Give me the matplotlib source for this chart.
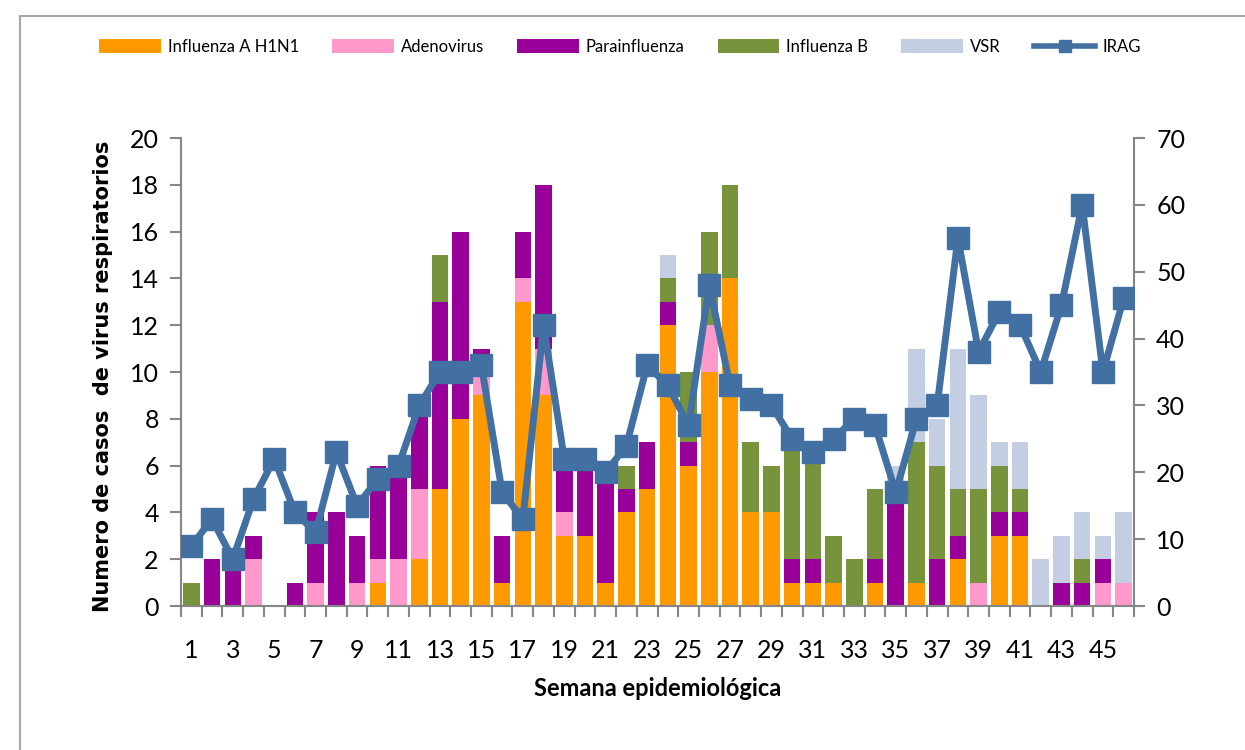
import matplotlib
matplotlib.use("Agg")
import matplotlib.pyplot as plt
from matplotlib.lines import Line2D
from matplotlib.patches import Patch, Rectangle
import numpy as np

weeks = list(range(1, 47))
h1n1 = [0,0,0,0,0,0,0,0,0,1,0,2,5,8,9,1,13,9,3,3,1,4,5,12,6,10,14,4,4,1,1,1,0,1,0,1,0,2,0,3,3,0,0,0,0,0]
adeno = [0,0,0,2,0,0,1,0,1,1,2,3,0,0,1,0,1,2,1,0,0,0,0,0,0,2,0,0,0,0,0,0,0,0,0,0,0,0,1,0,0,0,0,0,1,1]
parainf = [0,2,2,1,0,1,3,4,2,4,4,4,8,8,1,2,2,7,2,3,5,1,2,1,1,0,0,0,0,1,1,0,0,1,5,0,2,1,0,1,1,0,1,1,1,0]
flub = [1,0,0,0,0,0,0,0,0,0,0,0,2,0,0,0,0,0,0,0,0,1,0,1,3,4,4,3,2,5,5,2,2,3,0,6,4,2,4,2,1,0,0,1,0,0]
vsr = [0,0,0,0,0,0,0,0,0,0,0,0,0,0,0,0,0,0,0,0,0,0,0,1,0,0,0,0,0,0,0,0,0,0,1,4,2,6,4,1,2,2,2,2,1,3]
irag = [9,13,7,16,22,14,11,23,15,19,21,30,35,35,36,17,13,42,22,22,20,24,36,33,27,48,33,31,30,25,23,25,28,27,17,28,30,55,38,44,42,35,45,60,35,46]

series_names = ["Influenza A H1N1", "Adenovirus", "Parainfluenza", "Influenza B", "VSR"]
series_vals = [h1n1, adeno, parainf, flub, vsr]
colors = ["#FF9900", "#FF99CC", "#990099", "#77933C", "#C3CEE3"]
line_color = "#4270A2"
spine_color = "#868686"

plt.rcParams['font.family'] = ['Lato', 'DejaVu Sans']

fig = plt.figure(figsize=(12.45, 7.5), dpi=100)
W, H = 1245, 750
ax = fig.add_axes([181 / W, 1 - 606 / H, (1134 - 181) / W, (606 - 138) / H])

x = np.array(weeks, dtype=float)
bottom = np.zeros(len(weeks))
for name, vals, c in zip(series_names, series_vals, colors):
    v = np.array(vals, dtype=float)
    ax.bar(x, v, width=0.8, bottom=bottom, color=c, edgecolor='none', label=name, zorder=2)
    bottom += v

ax.set_xlim(0.5, 46.5)
ax.set_ylim(0, 20)
ax.set_yticks(np.arange(0, 21, 2))
ax.set_xticks(np.arange(0.5, 47, 1))
ax.set_xticklabels([])
ax.set_xticks(np.arange(1, 47, 2), minor=True)
ax.set_xticklabels([str(w) for w in range(1, 47, 2)], minor=True)
ax.tick_params(axis='x', which='major', direction='out', length=8, width=1.5, color=spine_color)
ax.tick_params(axis='x', which='minor', length=0, pad=24, labelsize=18)
ax.tick_params(axis='y', direction='out', length=8, width=1.5, color=spine_color, labelsize=18, pad=8)

for s in ['top', 'right']:
    ax.spines[s].set_visible(False)
for s in ['left', 'bottom']:
    ax.spines[s].set_color(spine_color)
    ax.spines[s].set_linewidth(1.5)

ax.set_ylabel("Numero de casos  de virus respiratorios", fontsize=15, fontweight='bold',
              family=['DejaVu Sans'])
ax.yaxis.set_label_coords(-0.071, 0.49)
ax.set_xlabel("Semana epidemiológica", fontsize=17, fontweight='bold')
ax.xaxis.set_label_coords(0.5, -0.152)

ax2 = ax.twinx()
ax2.plot(x, irag, color=line_color, lw=5, marker='s', markersize=16, zorder=3)
ax2.set_ylim(0, 70)
ax2.set_yticks(np.arange(0, 71, 10))
ax2.tick_params(axis='y', direction='out', length=8, width=1.5, color=spine_color, labelsize=18, pad=8)
for s in ['top', 'left', 'bottom']:
    ax2.spines[s].set_visible(False)
ax2.spines['right'].set_color(spine_color)
ax2.spines['right'].set_linewidth(1.5)

handles = [Patch(facecolor=c, edgecolor='none') for c in colors]
handles.append(Line2D([0], [0], color=line_color, lw=4, marker='s', markersize=8))
labels = series_names + ["IRAG"]
fig.legend(handles, labels, loc='center', bbox_to_anchor=(0.498, 1 - 47 / H), ncol=6,
           frameon=False, fontsize=12, handlelength=3.7, handleheight=0.9,
           columnspacing=2.0, handletextpad=0.4)

fig.add_artist(Rectangle((20 / W, -0.1), 1.2, 1 - 16 / H + 0.1, transform=fig.transFigure,
                         fill=False, edgecolor='#A6A6A6', lw=1.5))

fig.savefig("out.png", dpi=100)
